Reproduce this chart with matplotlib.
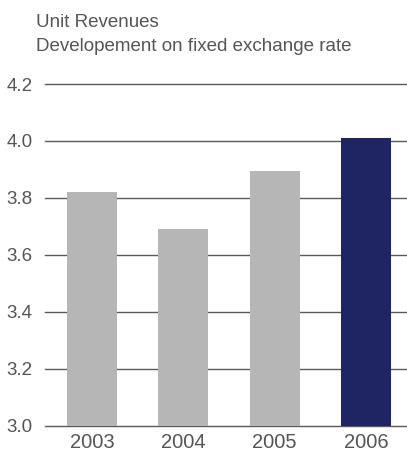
import matplotlib
matplotlib.use("Agg")
import matplotlib.pyplot as plt

# data
years = ["2003", "2004", "2005", "2006"]
revenues = [3.82, 3.69, 3.894, 4.009]
y_ticks = [3.0, 3.2, 3.4, 3.6, 3.8, 4.0, 4.2]
bar_colors = ["#b5b6b5", "#b5b6b5", "#b5b6b5", "#1f2563"]

plt.rcParams['font.family'] = ['Liberation Sans', 'DejaVu Sans']
text_color = "#555555"

fig = plt.figure(figsize=(4.07, 4.55), dpi=100)
ax = fig.add_axes([45 / 407, 1 - 425.7 / 455, 1 - 45 / 407, (425.7 - 84) / 455])

x = range(len(years))
ax.bar(x, revenues, width=0.55, color=bar_colors, zorder=3)

ax.set_ylim(3.0, 4.2)
ax.set_xlim(-0.515, 3.45)
ax.set_yticks(y_ticks)
ax.set_yticklabels(["%.1f" % v for v in y_ticks])
ax.set_xticks(list(x))
ax.set_xticklabels(years)

for v in y_ticks:
    ax.axhline(v, color="#5a5a5a", linewidth=1.0, zorder=1, clip_on=False)

for s in ax.spines.values():
    s.set_visible(False)
ax.tick_params(axis="y", length=0, labelsize=13.5, colors=text_color, pad=9)
ax.tick_params(axis="x", length=0, labelsize=14.5, colors=text_color, pad=5)

fig.text(36 / 407, 1 - 27 / 455, "Unit Revenues", fontsize=13.5, color=text_color,
         va="baseline", ha="left")
fig.text(36 / 407, 1 - 51 / 455, "Developement on fixed exchange rate", fontsize=13.5,
         color=text_color, va="baseline", ha="left")

fig.savefig("out.png", dpi=100)
